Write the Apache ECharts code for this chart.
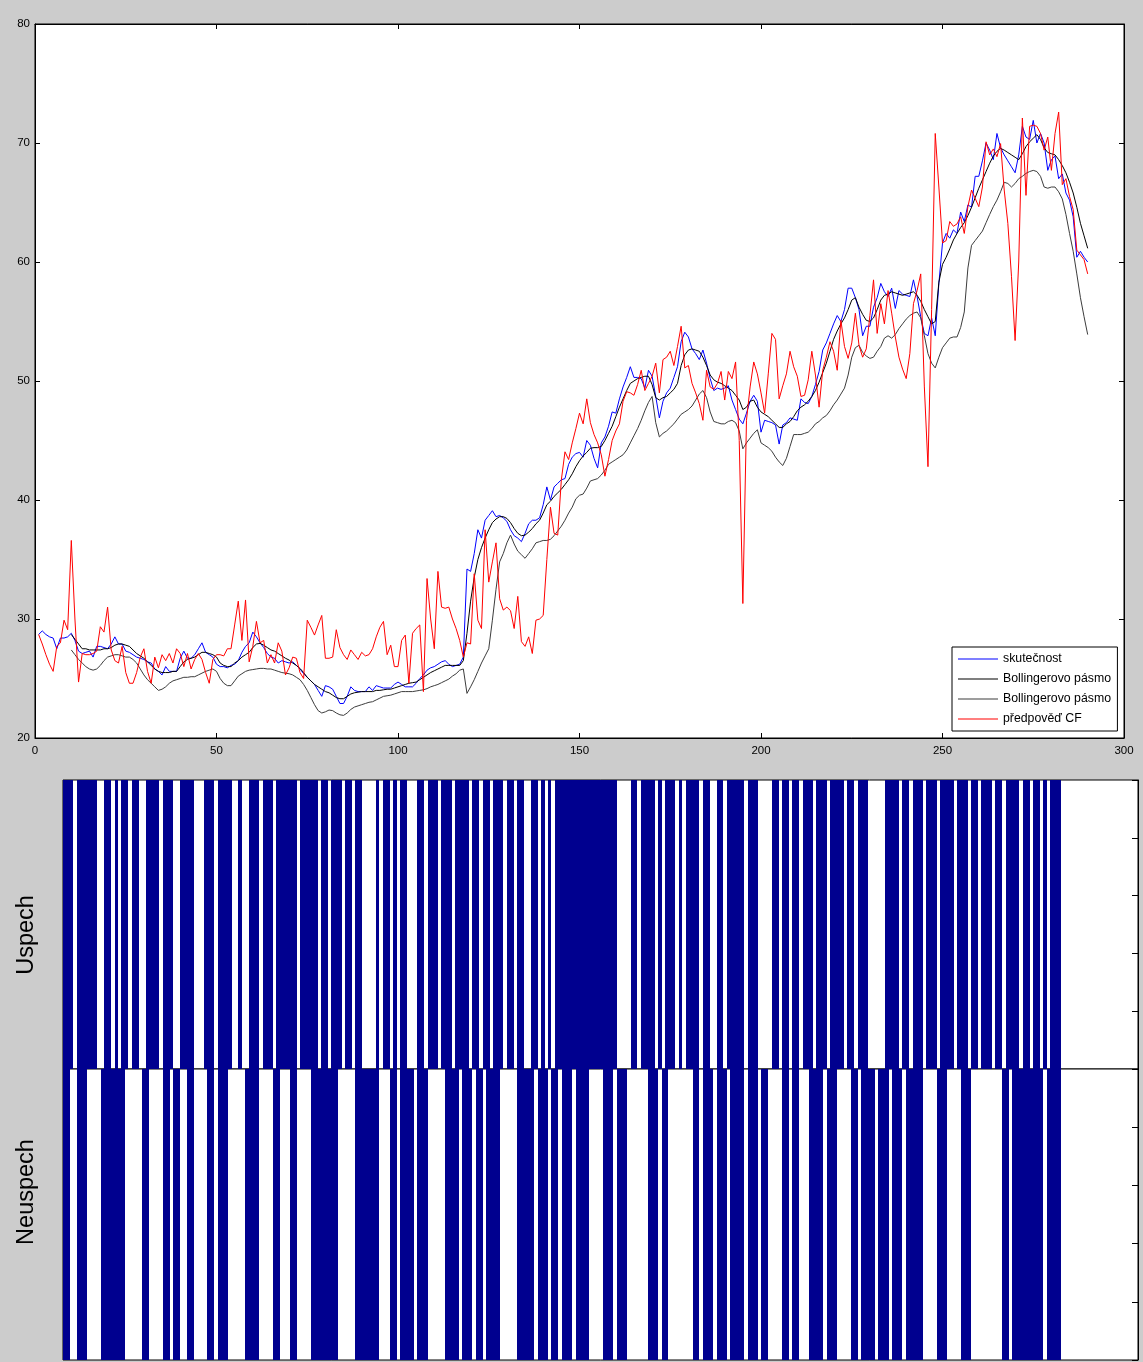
<!DOCTYPE html>
<html>
<head>
<meta charset="utf-8">
<script src="https://cdn.jsdelivr.net/npm/echarts@6/dist/echarts.min.js"></script>
<style>
html,body{margin:0;padding:0;background:#cccccc;}
#chart{width:1143px;height:1362px;}
</style>
</head>
<body>
<div id="chart"></div>
<script>
// skutecnost, index 1..290
const skutecnost = [
28.7,29.0,28.7,28.5,28.4,27.5,28.4,28.4,28.5,28.8,
28.2,27.3,27.1,27.2,27.3,26.8,27.7,27.7,27.6,27.5,
27.9,28.5,27.9,27.9,27.3,27.2,27.0,26.8,26.7,26.6,
26.4,26.3,25.8,25.6,25.3,26.0,25.6,25.6,25.6,26.7,
27.3,26.7,26.7,27.0,27.5,28.0,27.2,27.0,26.8,26.2,
26.0,26.0,25.9,26.1,26.2,26.5,27.2,27.7,28.0,28.9,
28.5,28.0,27.6,27.1,26.8,26.7,26.3,26.5,26.4,26.3,
26.4,26.1,25.8,25.4,25.1,24.8,24.5,24.0,23.5,24.4,
24.3,24.1,23.5,22.9,22.9,23.5,24.3,24.0,23.9,23.9,
23.9,24.3,24.0,24.4,24.3,24.2,24.2,24.2,24.5,24.7,
24.5,24.3,24.3,24.3,24.6,25.0,25.3,25.7,25.9,26.0,
26.2,26.4,26.5,26.2,26.0,26.1,26.2,26.8,34.2,34.0,
35.5,37.5,36.8,38.3,38.7,39.1,38.6,38.7,38.5,38.2,
37.5,37.0,36.8,36.5,37.2,38.0,38.3,38.3,38.5,39.6,
41.1,40.0,41.1,41.4,41.7,41.8,43.0,43.6,43.9,44.0,
43.6,45.0,44.6,43.5,42.7,44.8,45.3,46.2,47.4,47.3,
48.5,49.5,50.3,51.2,50.3,50.3,50.2,49.4,50.9,50.4,
48.7,46.9,48.3,49.0,49.4,50.3,51.2,53.3,54.1,53.7,
52.7,52.3,51.8,52.6,51.5,50.2,49.2,49.4,49.3,49.4,
49.6,48.4,47.6,46.8,46.4,47.3,48.3,48.8,48.3,45.7,
46.7,46.6,46.5,46.3,44.7,46.3,46.5,46.9,46.8,46.7,
48.5,48.2,48.1,48.7,49.7,50.8,52.6,53.2,54.0,54.8,
55.5,55.0,56.0,57.8,57.8,57.0,56.0,53.8,54.6,54.6,
56.2,57.0,58.2,57.5,57.1,57.8,56.1,57.6,57.3,57.2,
57.1,58.5,57.1,55.4,54.0,53.8,55.3,53.8,58.2,61.6,
62.4,62.0,62.7,62.4,64.2,63.4,64.8,64.6,67.2,67.2,
68.5,70.0,69.4,68.6,70.8,69.6,69.0,68.5,68.0,67.5,
69.0,71.4,70.5,70.3,71.9,70.0,70.8,70.0,67.7,68.6,
68.9,67.0,67.4,65.8,65.2,63.8,60.4,60.9,60.4,60.0
];

// Bollinger bands start at index 10
const pasmoStart = 10;
const pasmoHorni = [
28.7,28.3,27.9,27.5,27.5,27.4,27.4,27.4,27.4,27.5,
27.5,27.6,27.8,27.9,27.9,27.8,27.7,27.4,27.1,26.9,
26.7,26.4,26.1,25.8,25.6,25.5,25.5,25.5,25.6,25.6,
26.0,26.4,26.6,26.7,26.8,27.0,27.2,27.2,27.1,27.0,
26.8,26.3,26.1,26.0,26.0,26.3,26.5,26.8,27.0,27.2,
27.6,27.9,27.95,27.8,27.6,27.4,27.3,27.1,26.9,26.7,
26.55,26.3,26.1,25.85,25.5,25.1,24.8,24.5,24.3,24.1,
23.9,23.8,23.6,23.4,23.3,23.3,23.5,23.7,23.8,23.85,
23.9,23.9,23.9,23.9,24.0,24.0,24.05,24.1,24.1,24.2,
24.3,24.4,24.5,24.6,24.65,24.7,24.9,25.1,25.3,25.5,
25.65,25.8,25.95,26.1,26.1,26.1,26.1,26.1,26.5,28.8,
31.5,33.5,35.0,36.0,36.8,37.5,38.1,38.4,38.6,38.6,
38.45,38.1,37.6,37.2,37.0,37.05,37.3,37.6,38.0,38.3,
38.9,39.6,39.9,40.3,40.6,40.9,41.3,41.7,42.2,42.8,
43.3,43.7,44.0,44.35,44.4,44.4,44.5,45.0,45.6,46.2,
47.0,47.8,48.5,49.2,49.8,50.0,50.2,50.3,50.4,50.4,
49.7,48.6,48.4,48.6,48.7,49.0,49.3,49.8,51.3,52.2,
52.6,52.7,52.6,52.5,52.0,51.3,50.5,50.1,49.9,49.8,
49.6,49.4,49.2,48.8,48.4,47.6,47.8,48.3,48.4,47.8,
47.4,47.2,47.0,46.7,46.4,46.1,46.1,46.4,46.6,47.0,
47.5,47.8,48.0,48.3,48.7,49.2,49.9,50.7,51.5,52.5,
53.5,54.2,54.8,55.3,56.0,56.8,57.0,56.2,55.6,55.1,
55.0,55.3,56.0,56.8,57.2,57.3,57.5,57.4,57.3,57.2,
57.3,57.4,57.5,57.2,56.7,56.0,55.4,54.8,55.0,58.3,
59.8,60.4,61.1,61.85,62.4,62.9,63.3,63.9,64.6,65.4,
66.2,66.9,67.6,68.3,68.9,69.3,69.55,69.4,69.2,69.0,
68.8,68.6,69.1,69.7,70.1,70.4,70.7,70.3,69.6,69.2,
69.1,69.0,68.6,68.1,67.5,66.7,65.8,64.6,63.25,62.2,
61.15
];
const pasmoDolni = [
27.4,27.0,26.6,26.3,26.0,25.8,25.7,25.8,26.1,26.5,
26.8,26.9,27.0,27.0,26.9,26.8,26.8,26.6,26.3,25.8,
25.3,24.9,24.6,24.3,24.0,24.1,24.3,24.6,24.8,24.9,
25.0,25.1,25.1,25.15,25.15,25.3,25.45,25.6,25.7,25.8,
25.6,25.0,24.6,24.4,24.4,24.8,25.2,25.4,25.6,25.7,
25.75,25.8,25.85,25.85,25.8,25.8,25.7,25.6,25.5,25.45,
25.4,25.3,25.1,24.9,24.5,24.0,23.4,22.8,22.3,22.1,
22.2,22.35,22.3,22.1,21.95,21.9,22.1,22.4,22.6,22.7,
22.8,22.9,23.0,23.05,23.2,23.35,23.5,23.55,23.6,23.7,
23.8,23.9,23.9,23.9,23.9,23.95,24.0,24.05,24.15,24.3,
24.4,24.5,24.65,24.8,24.95,25.2,25.4,25.7,25.8,23.75,
24.3,24.9,25.6,26.3,26.9,27.5,29.9,32.5,34.8,35.5,
36.4,37.05,36.3,35.7,35.4,35.1,35.5,35.9,36.4,36.5,
36.6,36.6,36.7,37.0,37.4,37.8,38.3,38.9,39.4,40.1,
40.4,40.5,41.0,41.6,41.7,41.8,42.1,42.5,43.0,43.2,
43.4,43.6,43.8,44.2,44.8,45.4,46.0,46.7,47.5,48.2,
48.7,46.5,45.3,45.6,45.8,46.1,46.4,46.8,47.2,47.4,
47.6,47.9,48.4,48.9,49.2,48.6,47.4,46.6,46.5,46.4,
46.4,46.6,46.7,46.5,45.8,44.3,44.8,45.2,45.6,45.9,
44.8,44.6,44.4,44.1,43.6,43.2,42.9,43.5,44.5,45.5,
45.5,45.5,45.6,45.7,46.0,46.4,46.6,46.9,47.1,47.5,
48.0,48.4,48.9,49.4,50.5,52.0,52.8,53.0,52.4,52.1,
51.9,52.0,52.5,52.9,53.6,53.8,53.6,53.9,54.4,54.8,
55.2,55.5,55.7,55.8,55.3,53.8,52.3,51.5,51.1,52.0,
52.8,53.2,53.6,53.7,53.7,54.5,55.8,59.5,61.4,61.8,
62.2,62.6,63.3,64.0,64.65,65.2,65.9,66.7,66.6,66.3,
66.6,67.0,67.2,67.45,67.6,67.7,67.6,67.2,66.3,66.2,
66.3,66.3,65.9,65.3,64.0,62.4,60.9,59.0,57.0,55.4,
53.9
];

// predpoved CF, index 1..290
const predpoved = [
28.7,27.9,27.0,26.2,25.6,27.7,28.0,29.9,29.1,36.6,
30.0,24.7,27.1,27.0,27.0,27.1,27.3,29.35,28.9,31.0,
27.4,26.5,26.3,27.7,25.5,24.6,24.6,25.5,26.8,27.5,
25.6,24.6,26.8,25.9,27.0,26.5,27.1,26.3,27.5,27.1,
26.0,27.1,25.8,26.6,27.1,26.6,25.5,24.6,26.6,27.0,
27.0,26.9,27.5,27.5,29.5,31.5,28.2,31.6,26.4,27.7,
29.8,28.0,28.2,26.3,27.0,26.3,28.0,27.3,25.3,25.9,
26.8,26.7,25.5,25.0,29.9,29.3,28.65,29.5,30.3,26.7,
26.7,26.8,29.1,27.6,27.0,26.6,27.4,27.0,26.6,27.2,
26.9,27.0,27.5,28.5,29.3,29.8,27.0,27.8,26.0,26.0,
28.2,28.65,24.6,28.8,29.2,29.5,23.9,33.4,30.0,27.5,
34.0,31.0,30.9,31.0,30.0,29.2,28.2,26.8,28.0,27.9,
33.8,29.9,29.2,37.5,33.1,34.8,36.4,31.7,30.75,31.0,
30.7,29.2,31.9,28.1,27.7,28.5,27.1,29.9,30.0,30.3,
35.0,39.4,37.2,37.05,41.7,44.05,43.4,44.8,46.0,47.3,
46.4,48.5,46.5,45.5,44.8,43.8,42.0,43.4,45.0,45.8,
46.4,48.3,49.1,49.0,48.8,49.7,50.9,49.2,49.8,50.4,
51.5,49.0,51.8,52.0,52.5,51.3,52.9,54.6,51.1,51.3,
49.8,49.0,48.1,46.7,50.9,49.5,49.3,49.8,50.8,48.4,
50.8,50.2,51.6,45.0,31.3,46.7,49.5,51.6,50.6,49.0,
47.3,50.6,54.0,53.5,48.5,49.6,50.6,52.5,51.2,50.4,
48.7,48.8,50.1,52.5,50.5,47.8,50.9,52.0,53.3,52.5,
50.9,55.1,52.9,51.9,53.2,55.7,53.0,52.0,52.7,55.5,
58.5,54.0,56.5,54.8,57.6,55.7,53.7,52.0,51.0,50.2,
52.3,56.5,57.6,59.0,49.5,42.8,56.0,70.8,66.3,61.6,
61.8,63.4,63.0,63.2,63.8,62.4,64.65,66.05,65.35,64.65,
66.3,70.1,69.0,69.5,68.85,69.95,66.05,63.25,58.8,53.4,
60.0,72.1,65.6,71.4,71.5,71.4,70.8,69.4,70.5,67.7,
70.8,72.6,66.5,67.0,65.5,64.4,61.0,60.6,60.2,59.0
];

// success / failure flags, index 1..290
const uspech = [
1,1,1,0,1,1,1,1,1,1, 0,0,1,1,0,1,0,1,1,0, 1,1,0,0,1,1,1,1,0,1, 1,1,0,0,1,1,1,1,0,0, 0,1,1,1,0,1,1,1,1,0,
0,1,0,0,1,1,1,0,1,1, 1,0,1,1,1,1,1,1,0,1, 1,1,1,1,0,1,1,0,1,1, 1,0,1,1,0,1,1,0,0,0, 0,1,0,1,1,0,1,0,1,1,
0,0,0,1,1,0,1,1,1,0, 1,1,1,0,1,1,1,1,0,1, 1,0,1,1,0,1,1,1,0,1, 1,0,1,1,0,0,1,1,0,1, 0,1,0,1,1,1,1,1,1,1,
1,1,1,1,1,1,1,1,1,1, 1,0,0,0,0,1,1,0,1,1, 1,1,0,1,0,1,1,1,0,1, 0,1,1,1,1,0,1,1,0,0, 1,1,0,1,1,1,1,1,0,1,
1,1,0,0,0,0,1,1,0,1, 1,0,1,1,0,1,1,1,0,1, 1,1,0,1,1,1,1,0,1,1, 0,1,1,1,0,0,0,0,0,1, 1,1,1,0,1,1,0,1,1,1,
0,1,1,1,0,1,1,1,1,0, 1,1,1,0,1,1,0,1,1,1, 0,1,1,0,1,1,1,1,0,1, 1,0,1,1,0,1,0,1,1,1
];
const neuspech = [
1,1,0,0,1,1,1,0,0,0, 0,1,1,1,1,1,1,1,0,0, 0,0,0,1,1,0,0,0,0,1, 1,0,1,1,0,0,1,1,0,0, 0,0,1,1,0,1,1,1,0,0,
0,0,0,1,1,1,1,0,0,0, 0,1,1,0,0,0,1,1,0,0, 0,0,1,1,1,1,1,1,1,1, 0,0,0,0,0,1,1,1,1,1, 1,1,0,0,0,1,1,0,1,1,
1,1,0,1,1,1,0,0,0,0, 0,1,1,1,1,0,1,1,1,0, 1,1,0,1,1,1,1,0,0,0, 0,0,1,1,1,1,1,0,1,1, 1,0,1,1,0,1,1,1,0,1,
1,1,1,0,0,0,0,1,1,1, 0,1,1,1,0,0,0,0,0,0, 1,1,1,0,1,1,0,0,0,0, 0,0,0,1,1,0,1,1,1,0, 1,1,1,0,1,1,1,1,0,1,
1,1,0,1,1,0,0,0,0,1, 1,0,1,1,0,0,0,1,1,1, 1,0,1,1,1,0,0,0,0,1, 1,0,1,1,1,1,0,1,1,1, 0,1,1,1,0,1,1,1,1,1,
0,0,0,0,1,1,1,0,0,0, 0,1,1,1,0,0,0,0,0,0, 0,0,0,1,1,0,1,1,1,1, 1,1,1,1,1,0,1,1,1,1
];

const nazvy = ['skutečnost', 'Bollingerovo pásmo', 'Bollingerovo pásmo ', 'předpověď CF'];
const barvy = ['#0000ff', '#000000', '#3c3c3c', '#ff0000'];

(function(){
    const font = '"Liberation Sans Narrow", "Liberation Sans", Arial, sans-serif';
    const barMax = 312.5;
    let myChart = echarts.init(document.getElementById('chart'), null, {renderer: 'canvas'});

    const linePairs = (arr, start) => arr.map((v, k) => [start + k, v]);

    const frame = {show: true, backgroundColor: '#fff', borderColor: '#000', borderWidth: 1};
    const blackLine = {show: true, onZero: false, lineStyle: {color: '#000', width: 1}};
    const inTick = len => ({show: true, inside: true, length: len, lineStyle: {color: '#000'}});
    const tickLabel = {color: '#000', fontSize: 11.5, fontFamily: font};
    const noAxis = {axisLine: {show: false, onZero: false}, axisTick: {show: false}, axisLabel: {show: false}, splitLine: {show: false}};

    let lineSeries = [
        {data: linePairs(skutecnost, 1)},
        {data: linePairs(pasmoHorni, pasmoStart)},
        {data: linePairs(pasmoDolni, pasmoStart)},
        {data: linePairs(predpoved, 1)}
    ].map((s, k) => ({
        name: nazvy[k],
        type: 'line',
        xAxisIndex: 0,
        yAxisIndex: 0,
        data: s.data,
        showSymbol: false,
        symbol: 'none',
        itemStyle: {color: barvy[k]},
        lineStyle: {color: barvy[k], width: 1},
        z: 3 + k
    }));

    // one bar per index, snapped to whole pixels so neighbours join up
    const barSeries = (arr, axis) => ({
        type: 'custom', xAxisIndex: axis, yAxisIndex: axis,
        data: arr.map((v, k) => [k + 1, v]),
        encode: {x: 0, y: 1},
        z: 2,
        renderItem: function(params, api) {
            const i = api.value(0), v = api.value(1);
            if (!v) return null;
            const a = api.coord([i - 1, v]);
            const b = api.coord([i, 0]);
            const x0 = Math.round(a[0]), x1 = Math.round(b[0]);
            return {
                type: 'rect',
                shape: {x: x0, y: a[1], width: x1 - x0, height: b[1] - a[1]},
                style: {fill: '#00008f'}
            };
        }
    });

    const label = (text, y) => ({
        type: 'text', x: 27, y: y, rotation: Math.PI / 2,
        style: {text: text, fill: '#000', font: '23.5px "Liberation Sans", Arial, sans-serif',
                align: 'center', verticalAlign: 'middle'}
    });

    let options = {
        animation: false,
        backgroundColor: '#cccccc',
        grid: [
            Object.assign({left: 35, top: 24, width: 1089, height: 714}, frame),
            Object.assign({left: 63, top: 780, width: 1075, height: 289}, frame),
            Object.assign({left: 63, top: 1069, width: 1075, height: 291}, frame)
        ],
        legend: {
            data: nazvy,
            orient: 'vertical',
            left: 952,
            top: 647,
            backgroundColor: '#fff',
            borderColor: '#000',
            borderWidth: 1,
            borderRadius: 0,
            padding: [6, 3, 6, 6],
            itemGap: 8,
            itemWidth: 40,
            itemHeight: 1.2,
            icon: 'rect',
            textStyle: {color: '#000', fontSize: 12.3, fontFamily: font}
        },
        graphic: [label('Uspech', 935), label('Neuspech', 1192)],
        xAxis: [
            {gridIndex: 0, type: 'value', min: 0, max: 300, interval: 50,
             axisLine: blackLine, axisTick: inTick(5), axisLabel: Object.assign({margin: 7}, tickLabel), splitLine: {show: false}},
            {gridIndex: 0, type: 'value', position: 'top', min: 0, max: 300, interval: 50,
             axisLine: blackLine, axisTick: inTick(5), axisLabel: {show: false}, splitLine: {show: false}},
            Object.assign({gridIndex: 1, type: 'value', min: 0, max: barMax}, noAxis),
            Object.assign({gridIndex: 2, type: 'value', min: 0, max: barMax}, noAxis)
        ],
        yAxis: [
            {gridIndex: 0, type: 'value', min: 20, max: 80, interval: 10,
             axisLine: blackLine, axisTick: inTick(5), axisLabel: Object.assign({margin: 5}, tickLabel), splitLine: {show: false}},
            {gridIndex: 0, type: 'value', position: 'right', min: 20, max: 80, interval: 10,
             axisLine: blackLine, axisTick: inTick(5), axisLabel: {show: false}, splitLine: {show: false}},
            {gridIndex: 1, type: 'value', position: 'right', min: 0, max: 1, interval: 0.2,
             axisLine: blackLine, axisTick: inTick(6), axisLabel: {show: false}, splitLine: {show: false}},
            {gridIndex: 2, type: 'value', position: 'right', min: 0, max: 1, interval: 0.2,
             axisLine: blackLine, axisTick: inTick(6), axisLabel: {show: false}, splitLine: {show: false}}
        ],
        series: lineSeries.concat([barSeries(uspech, 2), barSeries(neuspech, 3)])
    };
    myChart.setOption(options);
})();
</script>
</body>
</html>
